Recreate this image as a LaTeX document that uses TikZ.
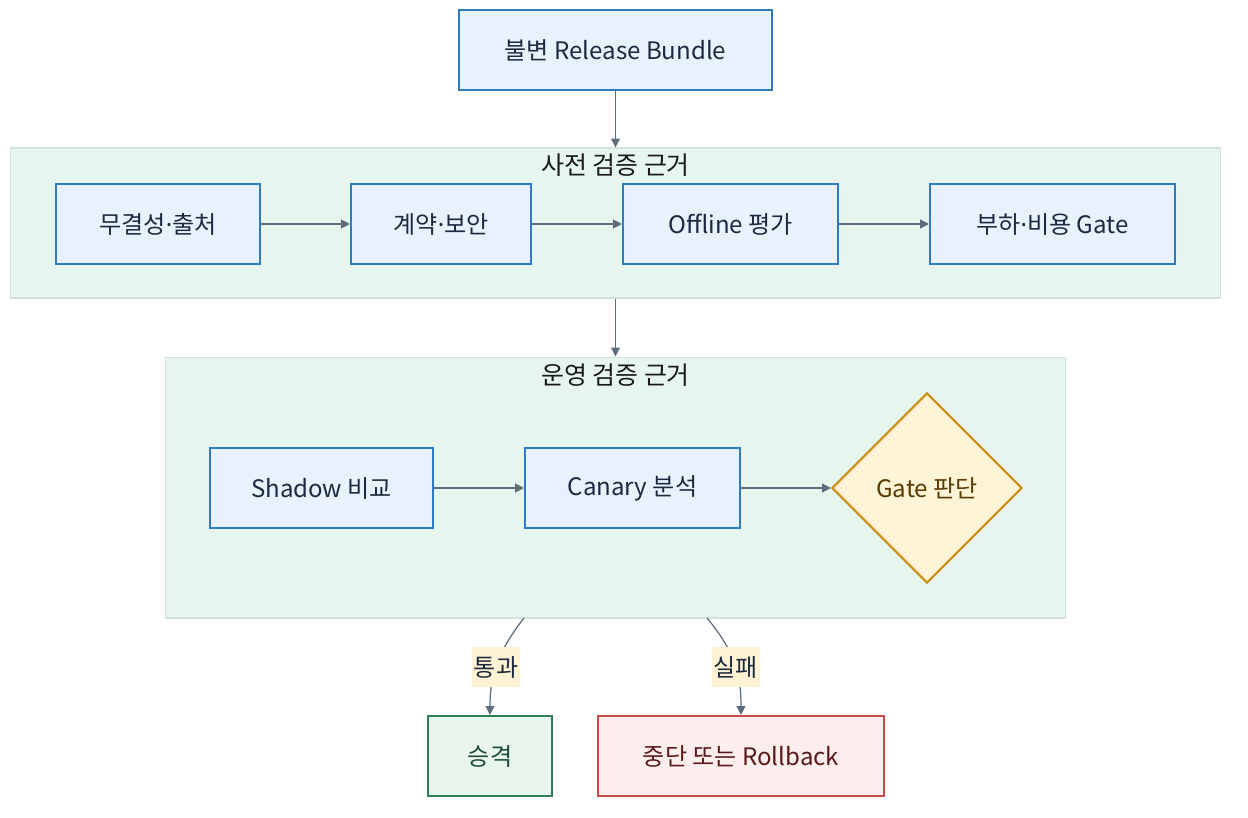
\documentclass[tikz,border=0pt]{standalone}
\usepackage{fontspec}
\setmainfont{Noto Sans CJK KR}
\newfontfamily\latinfont{Noto Sans}
\newcommand{\mdot}{{\latinfont ·}}
\usetikzlibrary{arrows.meta,shapes.geometric}

\definecolor{boxfill}{HTML}{E8F2FD}
\definecolor{boxline}{HTML}{2F7BBF}
\definecolor{boxtext}{HTML}{1B2A41}
\definecolor{clusterfill}{HTML}{E6F5EE}
\definecolor{clusterline}{HTML}{CFE3D8}
\definecolor{gatefill}{HTML}{FFF4D6}
\definecolor{gateline}{HTML}{CF8A12}
\definecolor{gatetext}{HTML}{5A3A00}
\definecolor{passfill}{HTML}{E7F5EC}
\definecolor{passline}{HTML}{2E7D55}
\definecolor{passtext}{HTML}{1D4D30}
\definecolor{failfill}{HTML}{FDEEEE}
\definecolor{failline}{HTML}{C84B4B}
\definecolor{failtext}{HTML}{5B1A1A}
\definecolor{flowline}{HTML}{5D6D7E}
\definecolor{labelfill}{HTML}{FFF3D4}

\tikzset{
    stepbox/.style={draw=boxline, fill=boxfill, line width=1.2pt, text=boxtext,
        minimum height=1.6cm, inner sep=0pt},
    cluster/.style={draw=clusterline, fill=clusterfill, line width=0.6pt, inner sep=0pt},
    clustertitle/.style={text=black!90, inner sep=0pt, font=\fontsize{14.2}{17}\selectfont},
    gatebox/.style={diamond, draw=gateline, fill=gatefill, line width=1.2pt, text=gatetext,
        minimum width=3.8cm, minimum height=3.8cm, inner sep=0pt},
    passbox/.style={stepbox, draw=passline, fill=passfill, text=passtext},
    failbox/.style={stepbox, draw=failline, fill=failfill, text=failtext},
    flow/.style={draw=flowline, line width=0.7pt, -{Triangle[length=5pt,width=5pt]}},
    edgelabel/.style={fill=labelfill, text=boxtext, inner xsep=1pt, inner ysep=0pt,
        minimum height=0.8cm},
}

\begin{document}
\begin{tikzpicture}[x=0.02cm, y=-0.02cm, font=\fontsize{13.7}{16}\selectfont]
        \useasboundingbox (0,0) rectangle (1248,818);
        % clusters
        \node[cluster, minimum width=24.22cm, minimum height=3cm] (pre) at (615.5,223) {};
        \node[clustertitle] (pretitle) at (615.5,165) {사전 검증 근거};
        \node[cluster, minimum width=18.02cm, minimum height=5.22cm] (ops) at (615.5,487.5) {};
        \node[clustertitle] (opstitle) at (615.5,375) {운영 검증 근거};
        % steps
        \node[stepbox, minimum width=6.26cm] (bundle) at (615.5,50) {불변 Release Bundle};
        \node[stepbox, minimum width=4.08cm] (integ) at (158,224) {무결성\mdot 출처};
        \node[stepbox, minimum width=3.6cm] (contract) at (441,224) {계약\mdot 보안};
        \node[stepbox, minimum width=4.3cm] (offline) at (730.5,224) {Offline 평가};
        \node[stepbox, minimum width=4.9cm] (load) at (1052.5,224) {부하\mdot 비용 Gate};
        \node[stepbox, minimum width=4.46cm] (shadow) at (321.5,488) {Shadow 비교};
        \node[stepbox, minimum width=4.3cm] (canary) at (632.5,488) {Canary 분석};
        \node[gatebox] (gate) at (927,488) {Gate 판단};
        \node[passbox, minimum width=2.48cm] (promote) at (490,756) {승격};
        \node[failbox, minimum width=5.72cm] (abort) at (741,756) {중단 또는 Rollback};
        \coordinate (passout) at (524,618);
        \coordinate (failout) at (707,618);
        % connectors
        \draw[flow] (bundle.south) -- (pre.north);
        \draw[flow] (integ) -- (contract);
        \draw[flow] (contract) -- (offline);
        \draw[flow] (offline) -- (load);
        \draw[flow] (pre.south) -- (ops.north);
        \draw[flow] (shadow) -- (canary);
        \draw[flow] (canary) -- (gate);
        \draw[flow] (passout) .. controls (495,655) and (490,680) .. (promote.north)
            node[pos=0.5, edgelabel] {통과};
        \draw[flow] (failout) .. controls (738,655) and (741,680) .. (abort.north)
            node[pos=0.5, edgelabel] {실패};
    \end{tikzpicture}
\end{document}
